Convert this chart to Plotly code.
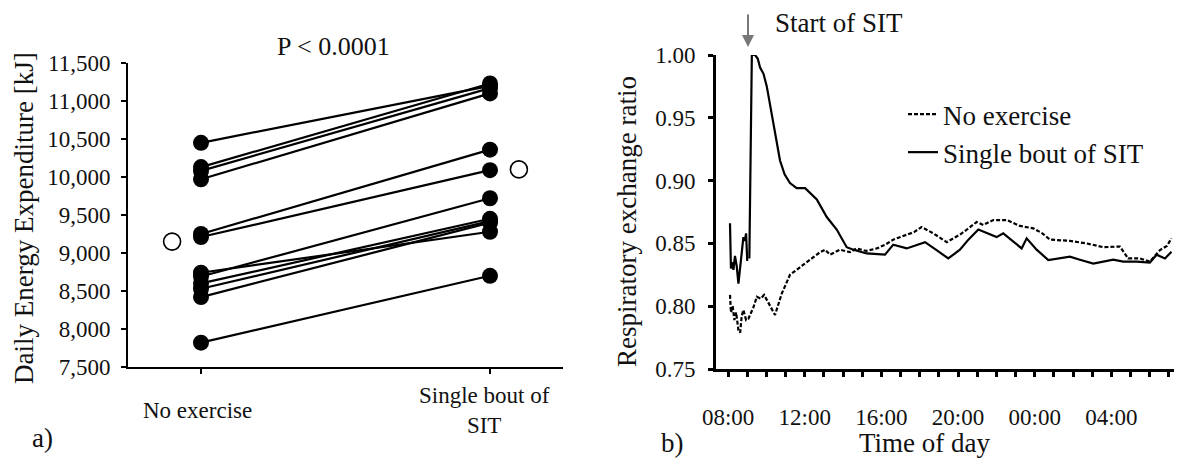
import plotly.graph_objects as go

# ---------------- Data ----------------
# Panel a) daily energy expenditure (kJ), paired per subject
no_exercise = [10450, 10130, 10080, 9970, 9250, 9210, 8740, 8690, 8600, 8530, 8420, 7820]
single_sit = [11200, 11230, 11170, 11100, 10360, 10090, 9280, 9720, 9450, 9420, 9400, 8700]
group_means = [9150, 10100]
category_pos = [0, 1]
category_labels = ["No exercise", "Single bout of<br>SIT"]
ee_ticks = [7500, 8000, 8500, 9000, 9500, 10000, 10500, 11000, 11500]

# Panel b) respiratory exchange ratio over time (hours from 00:00 of day 1)
noex_hours = [8.10, 8.15, 8.24, 8.33, 8.42, 8.54, 8.63, 8.71, 8.80, 8.94, 9.06, 9.32, 9.50,
              9.71, 9.88, 10.10, 10.45, 10.80, 11.23, 11.75, 12.28, 12.80, 13.06, 13.32,
              13.84, 14.36, 14.71, 15.20, 15.76, 16.20, 16.62, 17.32, 17.70, 18.10, 18.71,
              19.41, 20.10, 20.55, 20.97, 21.32, 21.84, 22.54, 23.23, 23.93, 24.40, 24.80,
              25.84, 26.71, 27.58, 28.45, 28.88, 29.49, 30.01, 30.54, 30.90, 31.14]
noex_rer = [0.809, 0.795, 0.800, 0.789, 0.795, 0.781, 0.779, 0.792, 0.797, 0.789, 0.790, 0.799,
            0.8075, 0.806, 0.809, 0.803, 0.793, 0.810, 0.825, 0.831, 0.837, 0.843, 0.845,
            0.841, 0.845, 0.843, 0.846, 0.844, 0.846, 0.849, 0.853, 0.857, 0.859, 0.863,
            0.858, 0.851, 0.857, 0.862, 0.867, 0.8647, 0.8686, 0.8686, 0.8639, 0.862,
            0.858, 0.853, 0.852, 0.850, 0.847, 0.8475, 0.838, 0.838, 0.8355, 0.8447,
            0.848, 0.854]
sit_hours_pre = [8.10, 8.15, 8.22, 8.28, 8.36, 8.45, 8.54, 8.63, 8.72, 8.80, 8.87, 8.94, 9.00]
sit_rer_pre = [0.866, 0.830, 0.835, 0.829, 0.840, 0.832, 0.818, 0.830, 0.845, 0.855, 0.852,
               0.858, 0.836]
sit_hours_post = [9.11, 9.18, 9.24, 9.41, 9.55, 9.67, 9.85, 10.02, 10.20, 10.37, 10.71,
                  10.95, 11.23, 11.58, 12.02, 12.63, 13.15, 13.67, 14.19, 14.54, 15.23,
                  16.19, 16.62, 17.32, 18.28, 18.88, 19.49, 20.10, 20.54, 21.06, 21.49,
                  22.01, 22.36, 23.06, 23.32, 23.58, 24.10, 24.71, 25.84, 26.36, 27.06,
                  28.10, 28.62, 29.32, 30.01, 30.36, 30.80, 31.14]
sit_rer_post = [0.838, 0.950, 1.000, 1.000, 0.997, 0.990, 0.985, 0.975, 0.960, 0.943, 0.916,
                0.905, 0.898, 0.894, 0.894, 0.885, 0.871, 0.861, 0.847, 0.845, 0.842,
                0.841, 0.849, 0.846, 0.851, 0.8447, 0.838, 0.845, 0.853, 0.861, 0.858,
                0.855, 0.858, 0.849, 0.846, 0.854, 0.845, 0.8368, 0.8394, 0.837, 0.834,
                0.837, 0.8355, 0.8355, 0.8347, 0.841, 0.838, 0.8434]
time_ticks = list(range(8, 32))
time_labels = {8: "08:00", 12: "12:00", 16: "16:00", 20: "20:00", 24: "00:00", 28: "04:00"}
rer_ticks = [0.75, 0.80, 0.85, 0.90, 0.95, 1.00]
sit_start_hour = 9.04

# ---------------- Styling ----------------
FONT = "Liberation Serif, Times New Roman, serif"
TXT = "#111111"
W, H = 1182, 459


def px(x):
    return x / W


def py(y):
    return 1 - y / H


fig = go.Figure()

# Panel a)
for a, b in zip(no_exercise, single_sit):
    fig.add_trace(go.Scatter(
        x=category_pos, y=[a, b], mode="lines+markers",
        line=dict(color="black", width=2.2),
        marker=dict(size=16, color="black"),
        showlegend=False, xaxis="x", yaxis="y", hoverinfo="skip"))

fig.add_trace(go.Scatter(
    x=[category_pos[0] - 0.1, category_pos[1] + 0.1], y=group_means, mode="markers",
    marker=dict(size=17, color="white", line=dict(color="black", width=1.6)),
    showlegend=False, xaxis="x", yaxis="y", hoverinfo="skip"))

# Panel b)
fig.add_trace(go.Scatter(
    x=noex_hours, y=noex_rer, mode="lines", name="No exercise",
    line=dict(color="black", width=2.2, dash="4px,2px"),
    xaxis="x2", yaxis="y2"))
fig.add_trace(go.Scatter(
    x=sit_hours_pre + [None] + sit_hours_post,
    y=sit_rer_pre + [None] + sit_rer_post, mode="lines", name="Single bout of SIT",
    line=dict(color="black", width=2.2), connectgaps=False,
    xaxis="x2", yaxis="y2"))

tickfont = dict(family=FONT, size=23, color=TXT)
base = dict(showline=True, linecolor="black", showgrid=False, zeroline=False,
            ticks="outside", tickcolor="black", ticklen=5, automargin=False)

fig.update_layout(
    template="none",
    width=W, height=H, autosize=False,
    margin=dict(l=0, r=0, t=0, b=0, pad=0, autoexpand=False),
    paper_bgcolor="white", plot_bgcolor="white",
    font=dict(family=FONT, color=TXT),
    xaxis=dict(domain=[px(128), px(563)], range=[-0.2526, 1.2526],
               tickvals=category_pos, showticklabels=False, anchor="y",
               linewidth=2, tickwidth=2, **base),
    yaxis=dict(domain=[py(367), py(63)], range=[7500, 11500], anchor="x",
               tickvals=ee_ticks, ticktext=[f"{v:,}" for v in ee_ticks], tickfont=tickfont,
               linewidth=2, tickwidth=2, ticklabelstandoff=6, **base),
    xaxis2=dict(domain=[px(716), px(1174)], range=[7.37, 31.27], anchor="y2",
                tickvals=time_ticks, ticktext=[time_labels.get(h, "") for h in time_ticks],
                tickfont=tickfont, linewidth=3, tickwidth=2.5, ticklabelstandoff=20, **base),
    yaxis2=dict(domain=[py(369), py(55)], range=[0.75, 1.0], anchor="x2",
                tickvals=rer_ticks, ticktext=[f"{v:.2f}" for v in rer_ticks], tickfont=tickfont,
                linewidth=3, tickwidth=2.5, ticklabelstandoff=8, **base),
    legend=dict(x=px(903), y=py(90), xanchor="left", yanchor="top",
                font=dict(family=FONT, size=27, color=TXT), bgcolor="rgba(0,0,0,0)",
                tracegroupgap=0, borderwidth=0),
    showlegend=True,
)


def label(x, y, text, size=27, angle=0, xref="paper"):
    return dict(x=x, y=y, xref=xref, yref="paper", text=text, showarrow=False,
                textangle=angle, xanchor="center", yanchor="middle",
                font=dict(family=FONT, size=size, color=TXT))


ann = []
for pos, lab in zip(category_pos, category_labels):
    a = label(pos, py(410), lab, size=23, xref="x")
    a["xshift"] = -6 if pos == 1 else -4
    ann.append(a)
ann += [
    label(px(333), py(46), "P &lt; 0.0001", size=26),
    label(px(24), py(218), "Daily Energy Expenditure [kJ]", angle=-90),
    label(px(627), py(222), "Respiratory exchange ratio", angle=-90),
    label(px(925), py(443), "Time of day"),
    label(px(42), py(438), "a)"),
    label(px(672), py(443), "b)"),
    label(px(839), py(23), "Start of SIT"),
    dict(x=sit_start_hour, y=py(47), xref="x2", yref="paper", text="", showarrow=True,
         ax=0, ay=-34, arrowhead=2, arrowsize=1.2, arrowwidth=2, arrowcolor="#777777"),
]
fig.update_layout(annotations=ann)

fig.write_html("out.html")
